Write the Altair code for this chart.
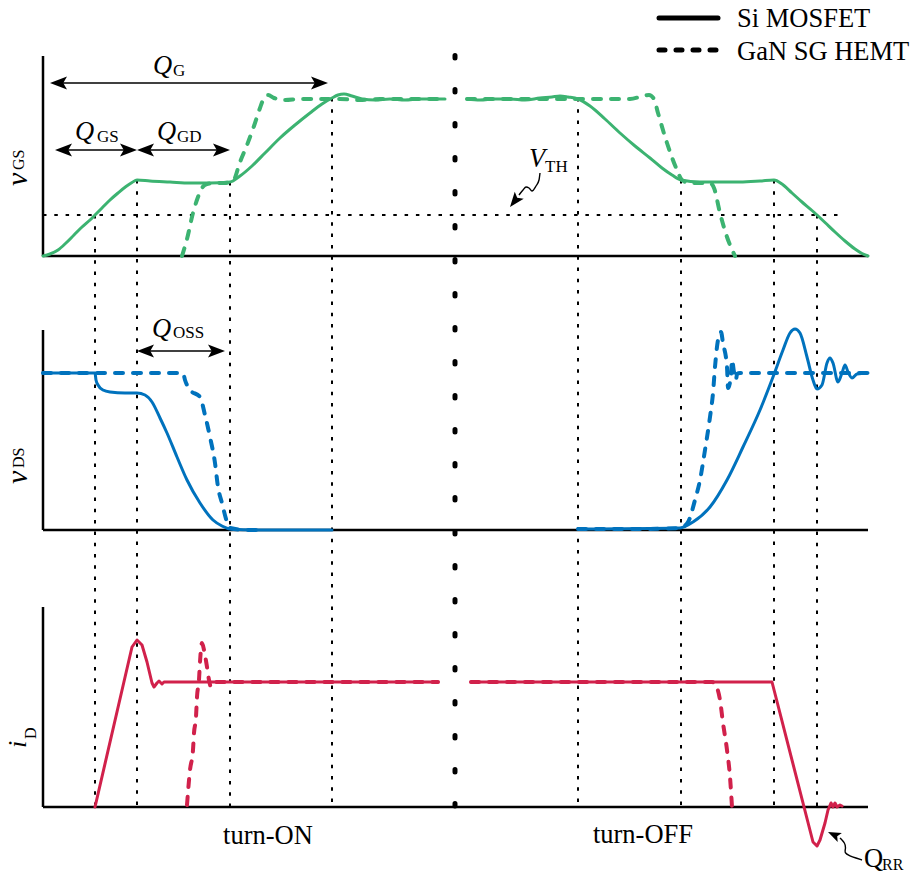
import altair as alt
import pandas as pd

# ------------------------------------------------------------------
# Hard-switching waveforms, Si MOSFET (solid) vs GaN SG HEMT (dashed).
# Time in arbitrary units (0 = start of turn-on); every signal is given
# in arbitrary units above the baseline of its own panel.
# ------------------------------------------------------------------

# gate-source voltage
VGS_SI_ON_T = [0, 0.7, 1.5, 2.3, 3.1, 3.9, 4.7, 5.2, 5.9, 6.7, 7.5, 8.3, 8.9, 9.4,
               10.7, 12.7, 14.7, 16.7, 18.7, 19.7, 20.9, 22.2, 23.7, 25.2, 26.7, 27.9,
               28.9, 29.5, 30.1, 30.9, 31.9, 33.2, 34.7, 36.2, 37.7, 40.2]
VGS_SI_ON_V = [0, 0.2, 0.6, 1.3, 2.1, 2.9, 3.6, 4.1, 4.8, 5.6, 6.3, 6.95, 7.35, 7.6,
               7.5, 7.4, 7.3, 7.3, 7.4, 8.0, 9.0, 10.3, 11.8, 13.1, 14.3, 15.2,
               15.8, 16.1, 16.2, 16.0, 15.7, 15.6, 15.7, 15.6, 15.7, 15.7]
VGS_SI_OFF_T = [42.4, 43.7, 45.2, 46.7, 48.2, 49.7, 50.9, 51.7, 52.5, 53.5, 54.7, 56.2,
                57.7, 59.2, 60.7, 61.9, 62.9, 63.8, 65.7, 67.7, 69.7, 71.7, 73.1, 73.9,
                74.9, 75.9, 76.9, 77.4, 78.2, 79.2, 80.2, 81.2, 81.9, 82.5]
VGS_SI_OFF_V = [15.7, 15.6, 15.7, 15.7, 15.6, 15.8, 15.9, 16.0, 15.9, 15.7, 15.0, 13.7,
                12.3, 11.0, 9.8, 8.8, 8.1, 7.6, 7.4, 7.4, 7.4, 7.5, 7.6, 7.2,
                6.3, 5.4, 4.55, 4.1, 3.35, 2.4, 1.5, 0.7, 0.25, 0]
VGS_GAN_ON_T = [13.9, 14.4, 15.0, 15.5, 15.9, 16.4, 17.2, 18.2, 19.0, 19.7, 20.4, 21.1,
                21.7, 22.1, 22.5, 23.1, 24.2, 25.7, 27.7, 29.7, 31.7, 33.7, 35.7, 37.7, 40.2]
VGS_GAN_ON_V = [0, 1.7, 4.3, 5.9, 6.8, 7.2, 7.3, 7.3, 7.5, 9.4, 11.1, 13.0,
                14.8, 15.8, 16.1, 15.8, 15.6, 15.7, 15.7, 15.7, 15.6, 15.7, 15.7, 15.7, 15.7]
VGS_GAN_OFF_T = [42.4, 45.7, 49.7, 55.7, 58.7, 60.0, 60.6, 61.1, 61.5, 62.4, 63.4, 63.9,
                 64.7, 65.7, 66.7, 67.1, 67.7, 68.4, 69.2]
VGS_GAN_OFF_V = [15.7, 15.7, 15.7, 15.7, 15.7, 16.0, 16.1, 15.7, 14.3, 11.3, 8.6, 7.6,
                 7.3, 7.3, 7.3, 6.8, 4.3, 1.9, 0]

# drain-source voltage
VDS_SI_ON_T = [0, 5.2, 5.3, 5.5, 6.0, 6.7, 8.2, 9.4, 10.2, 10.9, 11.7, 12.4, 13.4, 14.4,
               15.7, 17.0, 17.9, 18.7, 21.7, 25.7, 28.9]
VDS_SI_ON_V = [15.7, 15.7, 15.0, 14.5, 14.0, 13.8, 13.7, 13.7, 13.5, 12.8, 11.2, 9.7, 7.3, 5.0,
               2.7, 1.0, 0.4, 0.1, 0, 0, 0]
VDS_GAN_ON_T = [0, 5.7, 10.7, 14.0, 14.2, 14.7, 15.7, 16.2, 16.7, 17.2, 17.5, 17.9, 18.4,
                18.7, 20.2, 21.9]
VDS_GAN_ON_V = [15.7, 15.7, 15.7, 15.7, 15.0, 14.0, 13.3, 11.5, 9.3, 6.7, 4.3, 2.7, 0.8,
                0.2, 0, 0]
VDS_SI_OFF_T = [53.5, 63.7, 65.0, 66.7, 68.4, 70.0, 71.7, 73.0, 74.0, 74.7, 75.2, 75.7, 76.4,
                77.0, 77.4, 77.9, 78.4, 78.7, 79.0, 79.5, 79.9, 80.2, 80.5, 80.9, 81.4, 82.5]
VDS_SI_OFF_V = [0.1, 0.2, 0.8, 2.3, 5.0, 8.3, 12.0, 15.3, 18.0, 19.7, 20.1, 19.7, 17.3,
                15.0, 14.1, 14.5, 16.7, 17.2, 16.7, 14.8, 15.7, 16.5, 15.8, 15.2, 15.6, 15.7]
VDS_GAN_OFF_T = [53.5, 59.7, 63.7, 64.5, 65.2, 65.7, 66.2, 66.7, 67.0, 67.2, 67.5, 67.8,
                 68.0, 68.4, 68.5, 68.8, 68.9, 69.1, 69.3, 69.4, 69.7, 82.5]
VDS_GAN_OFF_V = [0.1, 0.1, 0.2, 0.8, 3.0, 5.0, 8.0, 11.3, 13.7, 16.3, 19.0, 19.8,
                 18.7, 16.3, 14.2, 15.5, 17.0, 15.8, 15.0, 15.6, 15.7, 15.7]

# drain current
ID_SI_ON_T = [5.2, 8.9, 9.4, 9.9, 10.4, 10.9, 11.1, 11.4, 11.6, 11.9, 12.1, 39.5]
ID_SI_ON_V = [0, 16.0, 16.7, 16.2, 14.5, 12.4, 12.0, 12.4, 12.6, 12.3, 12.5, 12.5]
ID_SI_OFF_T = [42.8, 72.9, 77.0, 77.4, 77.7, 78.2, 78.5, 78.8, 79.0, 79.2, 79.4, 79.7, 79.9]
ID_SI_OFF_V = [12.5, 12.5, -3.5, -3.9, -3.3, -1.6, -0.3, 0.4, 0, 0.4, 0, 0.2, 0.1]
ID_GAN_ON_T = [14.4, 14.7, 15.0, 15.1, 15.3, 15.4, 15.6, 15.7, 15.9, 16.1, 16.4, 16.6,
               16.8, 17.2, 39.5]
ID_GAN_ON_V = [0.2, 3.7, 5.7, 7.4, 9.0, 11.0, 12.7, 14.5, 16.4, 15.7, 14.0, 12.7,
               12.0, 12.5, 12.5]
ID_GAN_OFF_T = [42.8, 66.9, 67.2, 67.7, 68.0, 68.4, 68.7, 68.9]
ID_GAN_OFF_V = [12.5, 12.5, 12.3, 10.7, 8.4, 5.7, 3.0, 0]

# switching instants and the gate voltage reached at each of them
EDGE_T = [5.2, 9.4, 18.7, 28.9, 53.5, 63.8, 73.1, 77.4]
EDGE_VGS = [4.1, 7.6, 7.4, 15.8, 15.8, 7.6, 7.6, 4.1]
VTH = 4.1
VTH_END_T = 80.0
MID_T = 41.2

# charge intervals shown as double arrows
QG_SPAN = (0.7, 28.5)
QGS_SPAN = (1.2, 9.4)
QGD_SPAN = (9.4, 18.7)
QOSS_SPAN = (9.4, 18.2)

# ------------------------------------------------------------------
# layout
# ------------------------------------------------------------------
GREEN, BLUE, RED = "#3CB371", "#0072BD", "#D1214B"
PANEL_COLOR = {"vgs": GREEN, "vds": BLUE, "id": RED}
BASE = {"vgs": 61.9, "vds": 34.5, "id": 6.8}   # baseline of each panel
BOX_H = 20.0
T_END = 82.5
X_DOMAIN = [-4.3, 87.2]
Y_DOMAIN = [0.0, 87.5]
FONT = "Liberation Serif"


def yy(panel, v):
    return BASE[panel] + v


XS = alt.Scale(domain=X_DOMAIN, nice=False, zero=False)
YS = alt.Scale(domain=Y_DOMAIN, nice=False, zero=False)


def xenc(f="t"):
    return alt.X(f"{f}:Q", scale=XS, axis=None)


def yenc(f="y"):
    return alt.Y(f"{f}:Q", scale=YS, axis=None)


def rules(rows, **mark):
    df = pd.DataFrame(rows, columns=["t", "y", "t2", "y2"])
    return alt.Chart(df).mark_rule(**mark).encode(
        x=xenc(), y=yenc(), x2="t2:Q", y2="y2:Q")


def path_line(pts, **mark):
    df = pd.DataFrame(pts, columns=["t", "y"])
    df["idx"] = range(len(df))
    return alt.Chart(df).mark_line(**mark).encode(x=xenc(), y=yenc(), order="idx:Q")


# ---- waveforms: (panel, line style, interpolation, samples) ----
traces = [
    ("vgs", "solid", "monotone", VGS_SI_ON_T, VGS_SI_ON_V),
    ("vgs", "solid", "monotone", VGS_SI_OFF_T, VGS_SI_OFF_V),
    ("vgs", "dash", "monotone", VGS_GAN_ON_T, VGS_GAN_ON_V),
    ("vgs", "dash", "monotone", VGS_GAN_OFF_T, VGS_GAN_OFF_V),
    ("vds", "solid", "monotone", VDS_SI_ON_T, VDS_SI_ON_V),
    ("vds", "solid", "monotone", VDS_SI_OFF_T, VDS_SI_OFF_V),
    ("vds", "dash", "monotone", VDS_GAN_ON_T, VDS_GAN_ON_V),
    ("vds", "dash", "monotone", VDS_GAN_OFF_T, VDS_GAN_OFF_V),
    ("id", "solid", "linear", ID_SI_ON_T, ID_SI_ON_V),
    ("id", "solid", "linear", ID_SI_OFF_T, ID_SI_OFF_V),
    ("id", "dash", "monotone", ID_GAN_ON_T, ID_GAN_ON_V),
    ("id", "dash", "monotone", ID_GAN_OFF_T, ID_GAN_OFF_V),
]
frames = []
for k, (panel, style, interp, T, V) in enumerate(traces):
    f = pd.DataFrame({"t": T, "v": V})
    f["y"] = f["v"] + BASE[panel]
    f["seg"] = k
    f["idx"] = range(len(f))
    f["color"] = PANEL_COLOR[panel]
    f["style"] = style
    f["interp"] = interp
    frames.append(f)
wave = pd.concat(frames, ignore_index=True)


def wave_layer(style, interp, **mark):
    sub = wave[(wave["style"] == style) & (wave["interp"] == interp)]
    return alt.Chart(sub).mark_line(interpolate=interp, strokeCap="round",
                                    strokeJoin="round", **mark).encode(
        x=xenc(), y=yenc(),
        color=alt.Color("color:N", scale=None),
        detail="seg:N", order="idx:Q")


SOLID = dict(strokeWidth=3)
DASH = dict(strokeWidth=4, strokeDash=[8, 10])
wave_layers = [
    wave_layer("solid", "monotone", **SOLID),
    wave_layer("solid", "linear", **SOLID),
    wave_layer("dash", "monotone", **DASH),
]

# ---- axes ----
axis_rows = []
for p in BASE:
    axis_rows.append((0, yy(p, 0), 0, yy(p, BOX_H)))
    axis_rows.append((0, yy(p, 0), T_END, yy(p, 0)))
axes = rules(axis_rows, strokeWidth=2.5, color="black")

# ---- guide lines ----
edges = rules([(t, yy("vgs", v), t, yy("id", 0)) for t, v in zip(EDGE_T, EDGE_VGS)],
              strokeWidth=2, color="black", strokeDash=[3.5, 7.8])
vth = rules([(0, yy("vgs", VTH), VTH_END_T, yy("vgs", VTH))],
            strokeWidth=2, color="black", strokeDash=[3.5, 7.8])
middle = rules([(MID_T, yy("vgs", 20.05), MID_T, yy("id", 0))],
               strokeWidth=5, color="black", strokeCap="round", strokeDash=[2.5, 31.5])

# ---- charge arrows ----
arrow_specs = [(QG_SPAN, yy("vgs", 17.3)), (QGS_SPAN, yy("vgs", 10.6)),
               (QGD_SPAN, yy("vgs", 10.6)), (QOSS_SPAN, yy("vds", 17.9))]
shafts = rules([(a + 0.8, y, b - 0.8, y) for (a, b), y in arrow_specs],
               strokeWidth=1.6, color="black")
HEAD = "M0,0L-1,-0.38L-0.78,0L-1,0.38Z"
head_rows = []
for (a, b), y in arrow_specs:
    head_rows.append((a, y, 180, 1156))
    head_rows.append((b, y, 0, 1156))
# pointer arrows for V_TH and Q_RR
head_rows.append((46.7, yy("vgs", 4.9), 128, 900))
head_rows.append((78.5, yy("id", -2.5), 205, 676))
heads_df = pd.DataFrame(head_rows, columns=["t", "y", "ang", "size"])
heads = alt.Chart(heads_df).mark_point(
    shape=HEAD, filled=True, color="black", opacity=1, strokeWidth=0).encode(
    x=xenc(), y=yenc(),
    angle=alt.Angle("ang:Q", scale=None),
    size=alt.Size("size:Q", scale=None))

vth_tail = path_line([(49.7, yy("vgs", 8.3)), (49.6, yy("vgs", 7.6)), (49.3, yy("vgs", 7.0)),
                      (48.9, yy("vgs", 6.5)), (48.6, yy("vgs", 6.8)), (48.3, yy("vgs", 6.9)),
                      (48.0, yy("vgs", 6.6)), (47.6, yy("vgs", 6.1))],
                     strokeWidth=1.4, color="black", interpolate="monotone")
qrr_tail = path_line([(79.7, yy("id", -3.1)), (80.2, yy("id", -3.6)), (80.3, yy("id", -4.1)),
                      (80.1, yy("id", -4.6)), (80.7, yy("id", -4.9)), (81.3, yy("id", -5.1)),
                      (81.9, yy("id", -5.3))],
                     strokeWidth=1.4, color="black", interpolate="basis")

# ---- legend ----
leg_solid = rules([(61.6, yy("vgs", 23.8), 67.5, yy("vgs", 23.8))],
                  strokeWidth=5, color="black", strokeCap="round")
leg_dash = rules([(61.6, yy("vgs", 20.6), 67.5, yy("vgs", 20.6))],
                 strokeWidth=5, color="black", strokeCap="round", strokeDash=[6, 11])


# ---- text ----
def texts(rows, **mark):
    df = pd.DataFrame(rows, columns=["t", "y", "text", "fs", "ang"])
    return alt.Chart(df).mark_text(font=FONT, baseline="alphabetic", color="black",
                                   **mark).encode(
        x=xenc(), y=yenc(), text="text:N",
        size=alt.Size("fs:Q", scale=None),
        angle=alt.Angle("ang:Q", scale=None))


BIG, SUB = 26.5, 17
italic_txt = texts([
    (11.0, yy("vgs", 18.2), "Q", BIG, 0),
    (3.2, yy("vgs", 11.6), "Q", BIG, 0),
    (11.4, yy("vgs", 11.6), "Q", BIG, 0),
    (10.9, yy("vds", 19.3), "Q", BIG, 0),
    (48.6, yy("vgs", 8.9), "V", BIG, 0),
    (-1.6, yy("vgs", 7.0), "v", 30, 270),
    (-1.6, yy("vds", 4.6), "v", 30, 270),
    (-1.7, yy("id", 5.9), "i", 26, 270),
], align="left", fontStyle="italic")
roman_txt = texts([
    (13.0, yy("vgs", 18.0), "G", SUB, 0),
    (5.4, yy("vgs", 11.4), "GS", SUB, 0),
    (13.4, yy("vgs", 11.4), "GD", SUB, 0),
    (13.0, yy("vds", 19.2), "OSS", SUB, 0),
    (50.2, yy("vgs", 8.4), "TH", SUB, 0),
    (82.1, yy("id", -5.95), "Q", BIG, 0),
    (83.9, yy("id", -6.25), "RR", 16, 0),
    (69.4, yy("vgs", 22.9), "Si MOSFET", BIG, 0),
    (69.4, yy("vgs", 19.6), "GaN SG HEMT", BIG, 0),
    (-1.9, yy("vgs", 8.6), "GS", 16, 270),
    (-1.9, yy("vds", 6.2), "DS", 16, 270),
    (-0.7, yy("id", 6.8), "D", 16, 270),
], align="left")
center_txt = texts([
    (22.5, yy("id", -3.7), "turn-ON", BIG, 0),
    (60.0, yy("id", -3.6), "turn-OFF", BIG, 0),
], align="center")

chart = alt.layer(
    edges, vth, middle, axes, *wave_layers,
    shafts, heads, vth_tail, qrr_tail, leg_solid, leg_dash,
    italic_txt, roman_txt, center_txt,
).properties(
    width=915, height=875, padding=0,
    autosize=alt.AutoSizeParams(type="none"),
    background="white",
).configure_view(stroke=None)

chart.save("out.html", embed_options={"renderer": "svg", "actions": False})
